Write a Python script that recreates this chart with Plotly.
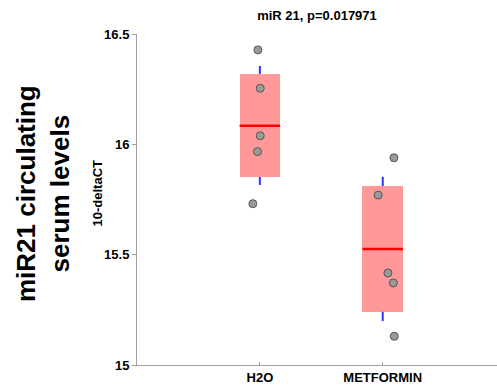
import plotly.graph_objects as go

# ---- data ----
categories = ["H2O", "METFORMIN"]
cat_pos = [1, 2]
h2o_values = [16.428, 16.254, 16.039, 15.967, 15.731]
h2o_jitter = [-0.016, 0.003, 0.003, -0.019, -0.057]
met_values = [15.939, 15.770, 15.417, 15.372, 15.130]
met_jitter = [0.091, -0.037, 0.042, 0.086, 0.094]
means = [16.084, 15.526]
ci_low = [15.852, 15.241]
ci_high = [16.319, 15.811]
sd_low = [15.816, 15.199]
sd_high = [16.355, 15.853]
y_ticks = [15, 15.5, 16, 16.5]
y_tick_text = ["15", "15.5", "16", "16.5"]

BOX_W = 0.33
FONT = "Liberation Sans, Arial, sans-serif"
AXIS_GRAY = "#a0a0a0"

fig = go.Figure()

# 95% CI boxes
fig.add_trace(go.Bar(
    x=cat_pos,
    y=[h - l for h, l in zip(ci_high, ci_low)],
    base=ci_low,
    width=BOX_W,
    marker=dict(color="#ff9999", line=dict(width=0)),
    hoverinfo="skip", showlegend=False,
))

# SD whiskers (outside box parts)
wx, wy = [], []
for c, sl, sh, bl, bh in zip(cat_pos, sd_low, sd_high, ci_low, ci_high):
    wx += [c, c, None, c, c, None]
    wy += [bh, sh, None, sl, bl, None]
fig.add_trace(go.Scatter(x=wx, y=wy, mode="lines",
                         line=dict(color="#3333ff", width=2),
                         hoverinfo="skip", showlegend=False))

# mean lines
mx, my = [], []
for c, m in zip(cat_pos, means):
    mx += [c - BOX_W / 2, c + BOX_W / 2, None]
    my += [m, m, None]
fig.add_trace(go.Scatter(x=mx, y=my, mode="lines",
                         line=dict(color="#ff0000", width=2.5),
                         hoverinfo="skip", showlegend=False))

# raw points
for c, vals, jit in [(cat_pos[0], h2o_values, h2o_jitter),
                     (cat_pos[1], met_values, met_jitter)]:
    fig.add_trace(go.Scatter(
        x=[c + j for j in jit], y=vals, mode="markers",
        marker=dict(size=8, color="#9a9a9a", line=dict(color="#555555", width=1)),
        showlegend=False,
    ))

fig.update_layout(
    width=497, height=389,
    margin=dict(l=137, r=0, t=34, b=24),
    paper_bgcolor="white", plot_bgcolor="white",
    font=dict(family=FONT, size=13, color="black"),
    title=dict(text="<b>miR 21, p=0.017971</b>", x=0.5, xref="paper",
               y=1 - 15 / 389, yref="container", yanchor="middle",
               font=dict(family=FONT, size=13, color="black")),
    bargap=0,
)

fig.update_xaxes(
    range=[0, 2.93], tickmode="array", tickvals=cat_pos, ticktext=categories,
    ticks="inside", ticklen=3, tickcolor=AXIS_GRAY,
    showline=True, linecolor=AXIS_GRAY, linewidth=1,
    showgrid=False, zeroline=False,
    tickfont=dict(family=FONT, size=13, color="black", weight="bold"),
)
fig.update_yaxes(
    range=[15, 16.5], tickmode="array", tickvals=y_ticks, ticktext=y_tick_text,
    ticks="outside", ticklen=4, tickcolor=AXIS_GRAY,
    showline=True, linecolor=AXIS_GRAY, linewidth=1,
    showgrid=False, zeroline=False,
    tickfont=dict(family=FONT, size=13, color="black", weight="bold"),
)

# y-axis label and big side label
fig.add_annotation(text="<b>10-deltaCT</b>", xref="paper", yref="paper",
                   x=(97 - 137) / 360, y=(365 - 193.5) / 331,
                   xanchor="center", yanchor="middle", textangle=-90,
                   showarrow=False, font=dict(family=FONT, size=13, color="black"))
fig.add_annotation(text="<b>miR21 circulating<br>serum levels</b>",
                   xref="paper", yref="paper",
                   x=(43 - 137) / 360, y=(365 - 194) / 331,
                   xanchor="center", yanchor="middle", textangle=-90,
                   showarrow=False, font=dict(family=FONT, size=26, color="black"))

fig.write_html(
    "out.html",
    config={"displayModeBar": False},
    post_script="document.body.style.margin='0px';document.body.style.overflow='hidden';",
)
